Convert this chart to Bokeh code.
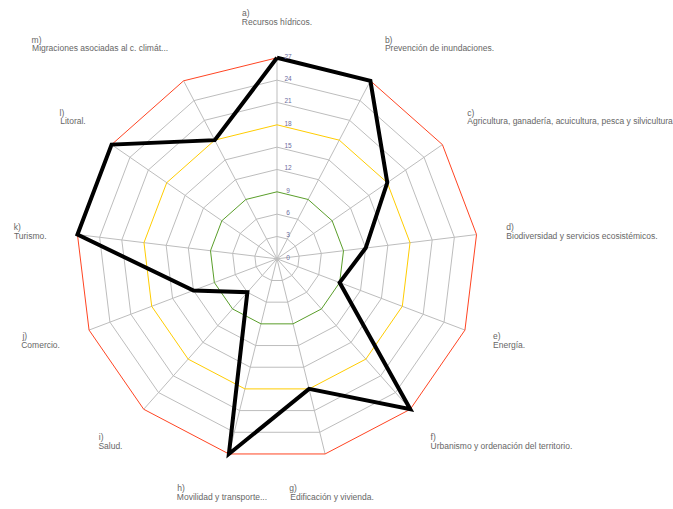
import numpy as np
from bokeh.plotting import figure
from bokeh.models import Range1d
from bokeh.core.properties import value
from bokeh.embed import file_html
from bokeh.resources import INLINE

# ---------------- data ----------------
letters = ["a)", "b)", "c)", "d)", "e)", "f)", "g)", "h)", "i)", "j)", "k)", "l)", "m)"]
names = [
    "Recursos hídricos.",
    "Prevención de inundaciones.",
    "Agricultura, ganadería, acuicultura, pesca y silvicultura.",
    "Biodiversidad y servicios ecosistémicos.",
    "Energía.",
    "Urbanismo y ordenación del territorio.",
    "Edificación y vivienda.",
    "Movilidad y transporte...",
    "Salud.",
    "Comercio.",
    "Turismo.",
    "Litoral.",
    "Migraciones asociadas al c. climát...",
]
scores = [27, 27, 18, 12, 9, 27, 18, 27, 6, 12, 27, 27, 18]
ticks = [0, 3, 6, 9, 12, 15, 18, 21, 24, 27]
tick_labels = ["0", "3", "6", "9", "12", "15", "18", "21", "24", "27"]
ring_colors = {9: "#5a9e2a", 18: "#ffcc00", 27: "#ff4422"}

# ---------------- layout ----------------
W, H = 673, 509
CX, CY = 276.5, 258.3      # centre in figure pixels
RPX = 201.0                 # pixel radius of outer ring
rmax = ticks[-1]
k = RPX / rmax              # pixels per unit
FONT = "Liberation Sans"
LBL_SIZE = 8.5
GRID = "#bdbdbd"

p = figure(width=W, height=H,
           x_range=Range1d(-CX / k, (W - CX) / k),
           y_range=Range1d(-(H - CY) / k, CY / k),
           output_backend="svg", toolbar_location=None, min_border=0)
p.axis.visible = False
p.grid.visible = False
p.outline_line_color = None
p.background_fill_color = "white"
p.border_fill_color = "white"

n = len(names)
theta = np.pi / 2 - 2 * np.pi * np.arange(n) / n
cs, sn = np.cos(theta), np.sin(theta)

# spokes
p.segment(x0=[0] * n, y0=[0] * n, x1=list(rmax * cs), y1=list(rmax * sn),
          line_color=GRID, line_width=1)

# rings: gray first, coloured on top
def ring(t, color):
    xs = list(t * cs) + [t * cs[0]]
    ys = list(t * sn) + [t * sn[0]]
    p.line(xs, ys, line_color=color, line_width=1, line_join="miter")

for t in ticks[1:]:
    if t not in ring_colors:
        ring(t, GRID)
for t in ticks[1:]:
    if t in ring_colors:
        ring(t, ring_colors[t])

# data polygon
vals = np.array(scores, dtype=float)
px = list(vals * cs) + [vals[0] * cs[0]]
py = list(vals * sn) + [vals[0] * sn[0]]
p.line(px, py, line_color="black", line_width=4, line_join="miter")

# tick labels
p.text(x=[11 / k] * len(ticks), y=[t + 1.5 / k for t in ticks], text=tick_labels,
       text_font=value(FONT), text_font_size="6.5px", text_color="#6c6ca0",
       text_align="center", text_baseline="middle")

# approximate text width (Arial metrics, em)
def text_w(s, size):
    narrow = set("il.,:;'|!íìj")
    semi = set(" tfr()[]-")
    wide = set("mwMW")
    tot = 0.0
    for ch in s:
        if ch in narrow:
            tot += 0.24
        elif ch in semi:
            tot += 0.3
        elif ch in wide:
            tot += 0.8
        elif ch.isupper():
            tot += 0.68
        else:
            tot += 0.54
    return tot * size

RL = 230.0 / k
x1s, y1s, a1s = [], [], []
x2s, y2s, a2s = [], [], []
for i in range(n):
    c, s = cs[i], sn[i]
    ax, ay = RL * c, RL * s
    if s > 0.5:
        o1, o2 = -15.5, -7.0
    elif s < -0.5:
        o1, o2 = 6.0, 15.0
    else:
        o1, o2 = -4.5, 4.5
    y1s.append(ay - o1 / k)
    y2s.append(ay - o2 / k)
    w = text_w(names[i], LBL_SIZE)
    if abs(c) < 0.3:
        x2s.append(ax); a2s.append("center")
        x1s.append(ax - w / 2 / k)
    elif c > 0:
        x2s.append(ax + 1 / k); a2s.append("left")
        x1s.append(ax + 1 / k)
    else:
        x2s.append(ax - 2 / k); a2s.append("right")
        x1s.append(ax - (2 + w) / k)

p.text(x=x1s, y=y1s, text=letters, text_font=value(FONT), text_font_size=f"{LBL_SIZE}px",
       text_color="#666666", text_align="left", text_baseline="middle")
for i in range(n):
    p.text(x=[x2s[i]], y=[y2s[i]], text=[names[i]], text_font=value(FONT),
           text_font_size=f"{LBL_SIZE}px", text_color="#666666",
           text_align=a2s[i], text_baseline="middle")

open("out.html", "w").write(file_html(p, INLINE))
